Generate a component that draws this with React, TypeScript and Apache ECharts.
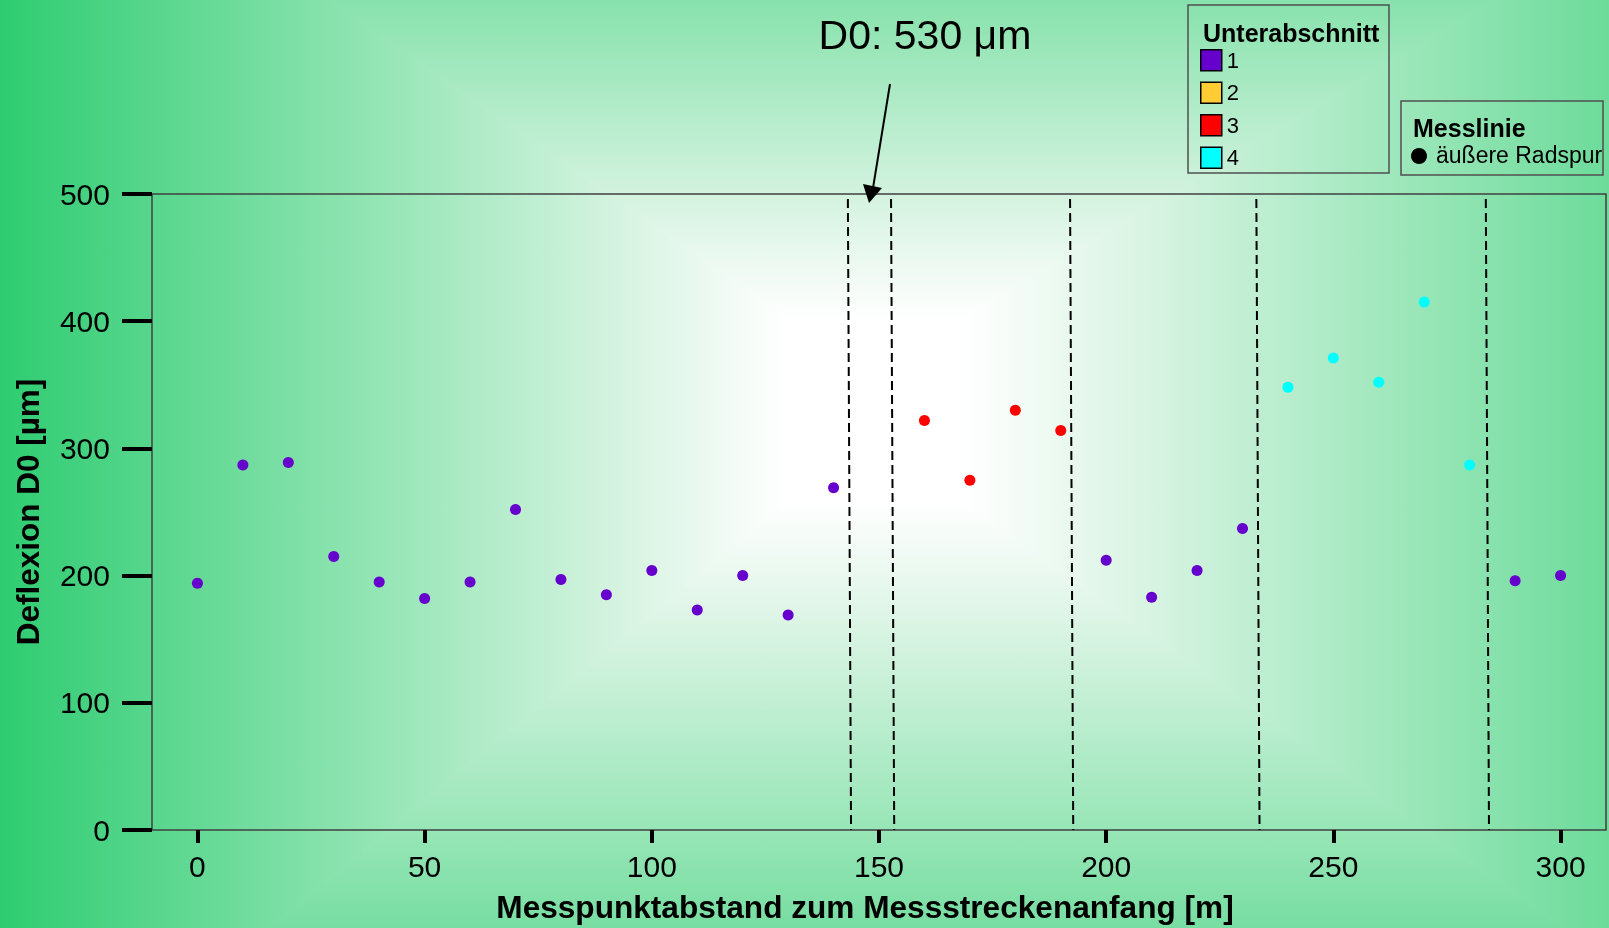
import React, { useEffect, useRef } from "react";
import * as echarts from "echarts";

// ---- data ----
const distances = [0, 10, 20, 30, 40, 50, 60, 70, 80, 90, 100, 110, 120, 130, 140, 160, 170, 180, 190, 200, 210, 220, 230, 240, 250, 260, 270, 280, 290, 300];
const deflections = [194, 287, 289, 215, 195, 182, 195, 252, 197, 185, 204, 173, 200, 169, 269, 322, 275, 330, 314, 212, 183, 204, 237, 348, 371, 352, 415, 287, 196, 200];
const sectionOf = [1, 1, 1, 1, 1, 1, 1, 1, 1, 1, 1, 1, 1, 1, 1, 3, 3, 3, 3, 1, 1, 1, 1, 4, 4, 4, 4, 4, 1, 1];
const sectionNames = ["1", "2", "3", "4"];
const sectionColors = ["#6600CC", "#FFCC33", "#FF0000", "#00FFFF"];
const boundaries = [143.5, 153, 192.4, 233.4, 283.9];
const xTicks = [0, 50, 100, 150, 200, 250, 300];
const yTicks = [0, 100, 200, 300, 400, 500];
const annotatedValue = 530;
const lineName = "äußere Radspur";

const FONT = "'Liberation Sans', Arial, sans-serif";

export default function App() {
  const ref = useRef<HTMLDivElement>(null);

  useEffect(() => {
    if (!ref.current) return;
    const chart = echarts.init(ref.current, undefined, { renderer: "svg" });

    const W = "#ffffff";
    const stops = [
      { offset: 0, color: "#2ecc71" },
      { offset: 0.5, color: "#99e6b8" },
      { offset: 0.8, color: "#d9f4e3" },
      { offset: 0.93, color: "#f3fbf6" },
      { offset: 1, color: W },
    ];
    const x0 = 790, x1 = 960, y0 = 320, y1 = 500;
    const xL = 0, xR = 1877, yT = -229, yB = 1150;
    const grad = (x: number, y: number, x2: number, y2: number) =>
      new echarts.graphic.LinearGradient(x, y, x2, y2, stops, true);
    const bgPoly = (pts: number[][], g: any) => ({
      type: "polygon",
      z: -10,
      silent: true,
      shape: { points: pts },
      style: { fill: g, stroke: g, lineWidth: 1 },
    });

    const series: any[] = sectionNames.map((name, si) => ({
      name,
      type: "scatter",
      symbol: "circle",
      symbolSize: 11,
      itemStyle: { color: sectionColors[si], opacity: 1 },
      data: distances
        .map((d, i) => (sectionOf[i] === si + 1 ? [d, deflections[i]] : null))
        .filter((p) => p !== null),
      z: 3,
    }));
    series[0].markLine = {
      silent: true,
      symbol: ["none", "none"],
      label: { show: false },
      lineStyle: { type: [9, 5], color: "#000", width: 2 },
      emphasis: { disabled: true },
      data: boundaries.map((b) => [
        { coord: [b - 0.35, 496] },
        { coord: [b + 0.35, 0] },
      ]),
    };

    const option: any = {
      animation: false,
      textStyle: { fontFamily: FONT },
      grid: {
        left: 152,
        top: 194,
        width: 1454,
        height: 636,
        show: true,
        borderColor: "#404040",
        borderWidth: 1.5,
        backgroundColor: "transparent",
      },
      xAxis: {
        type: "value",
        min: -10,
        max: 310,
        axisLine: { show: false, onZero: false },
        splitLine: { show: false },
        axisTick: { show: true, length: 13, lineStyle: { color: "#000", width: 4 }, customValues: xTicks },
        axisLabel: { fontSize: 30, color: "#000", margin: 21, fontFamily: FONT, customValues: xTicks },
        name: "Messpunktabstand zum Messstreckenanfang [m]",
        nameLocation: "middle",
        nameGap: 61,
        nameTextStyle: { fontSize: 31.6, fontWeight: "bold", color: "#000", fontFamily: FONT, padding: [0, 28, 0, 0] },
      },
      yAxis: {
        type: "value",
        min: 0,
        max: 500,
        interval: 100,
        axisLine: { show: false, onZero: false },
        splitLine: { show: false },
        axisTick: { show: true, length: 30, lineStyle: { color: "#000", width: 4 }, customValues: yTicks },
        axisLabel: { fontSize: 30, color: "#000", margin: 42, fontFamily: FONT, padding: [9, 0, 0, 0], customValues: yTicks },
        name: "Deflexion D0 [µm]",
        nameLocation: "middle",
        nameGap: 108,
        nameTextStyle: { fontSize: 31.5, fontWeight: "bold", color: "#000", fontFamily: FONT },
      },
      legend: {
        data: sectionNames,
        orient: "vertical",
        left: 1200,
        top: 49,
        padding: 0,
        itemWidth: 21,
        itemHeight: 21,
        itemGap: 10,
        icon: "rect",
        selectedMode: false,
        itemStyle: { borderColor: "#000", borderWidth: 1.5, opacity: 1 },
        textStyle: { fontSize: 22, color: "#000", fontFamily: FONT, lineHeight: 21 },
      },
      graphic: [
        bgPoly([[xL, yT], [x0, y0], [x0, y1], [xL, yB]], grad(xL, 0, x0, 0)),
        bgPoly([[xR, yT], [x1, y0], [x1, y1], [xR, yB]], grad(xR, 0, x1, 0)),
        bgPoly([[xL, yT], [xR, yT], [x1, y0], [x0, y0]], grad(0, yT, 0, y0)),
        bgPoly([[xL, yB], [xR, yB], [x1, y1], [x0, y1]], grad(0, yB, 0, y1)),
        {
          type: "rect",
          z: -10,
          silent: true,
          shape: { x: x0, y: y0, width: x1 - x0, height: y1 - y0 },
          style: { fill: W, stroke: W, lineWidth: 1 },
        },
        {
          type: "rect",
          shape: { x: 1188, y: 5, width: 201, height: 168 },
          style: { fill: "none", stroke: "#505050", lineWidth: 1.5 },
        },
        {
          type: "text",
          x: 1203,
          y: 33,
          style: { text: "Unterabschnitt", fontSize: 25, fontWeight: "bold", fill: "#000", fontFamily: FONT, verticalAlign: "middle" },
        },
        {
          type: "rect",
          shape: { x: 1401, y: 101, width: 202, height: 74 },
          style: { fill: "none", stroke: "#505050", lineWidth: 1.5 },
        },
        {
          type: "text",
          x: 1413,
          y: 128,
          style: { text: "Messlinie", fontSize: 25, fontWeight: "bold", fill: "#000", fontFamily: FONT, verticalAlign: "middle" },
        },
        {
          type: "circle",
          shape: { cx: 1419, cy: 156, r: 8 },
          style: { fill: "#000" },
        },
        {
          type: "text",
          x: 1436,
          y: 155,
          style: { text: lineName, fontSize: 23, fill: "#000", fontFamily: FONT, verticalAlign: "middle" },
        },
        {
          type: "text",
          x: 925,
          y: 35,
          style: { text: `D0: ${annotatedValue} μm`, fontSize: 41, fill: "#000", fontFamily: FONT, align: "center", verticalAlign: "middle" },
        },
        {
          type: "line",
          shape: { x1: 890, y1: 84, x2: 873, y2: 188 },
          style: { stroke: "#000", lineWidth: 2 },
        },
        {
          type: "polygon",
          shape: { points: [[863, 184], [882, 188], [869, 203]] },
          style: { fill: "#000" },
        },
      ],
      series,
    };

    chart.setOption(option);
    return () => chart.dispose();
  }, []);

  return (
    <div
      ref={ref}
      style={{ position: "fixed", left: 0, top: 0, width: 1609, height: 928 }}
    />
  );
}
